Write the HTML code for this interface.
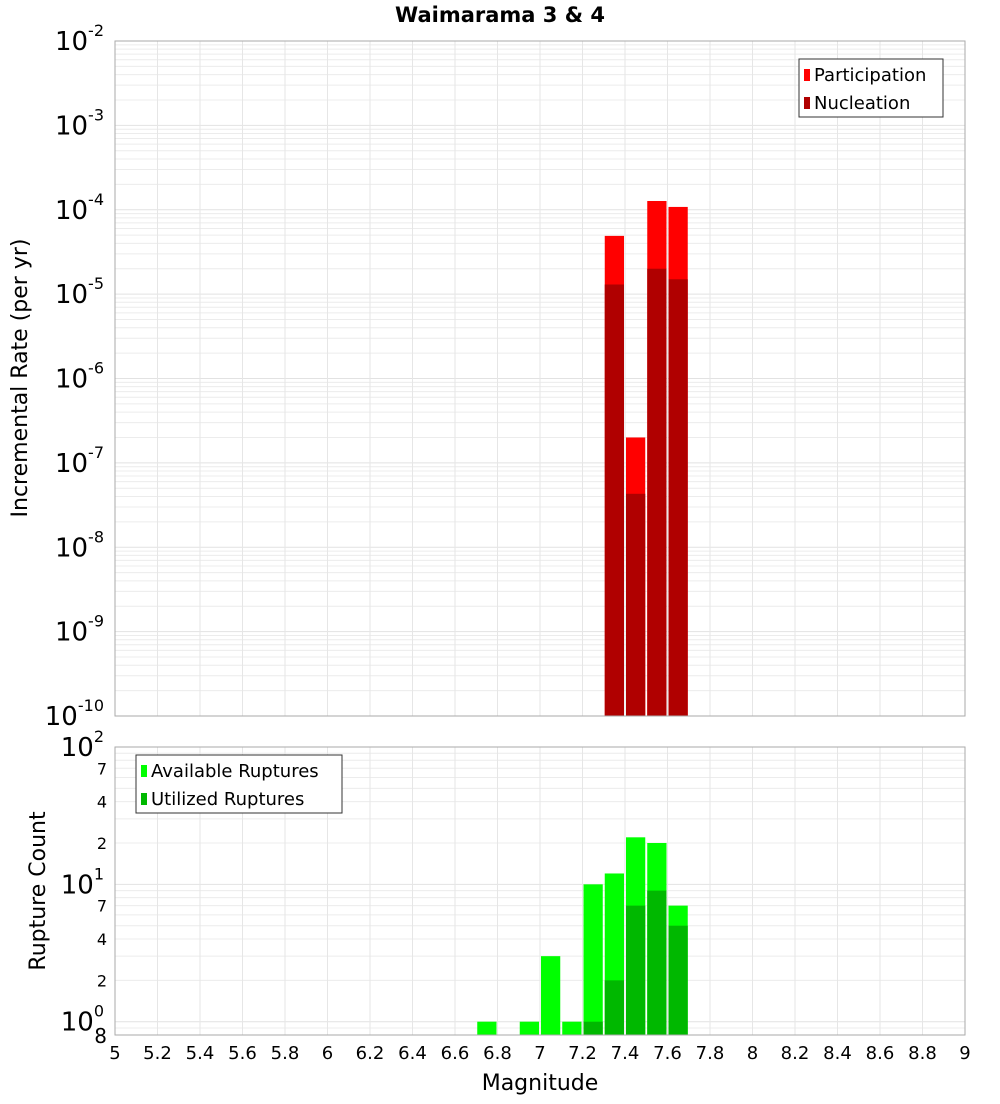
<!DOCTYPE html>
<html><head><meta charset="utf-8"><style>
body{margin:0;background:#fff;font-family:"DejaVu Sans","Liberation Sans",sans-serif}
svg text{font-family:"DejaVu Sans","Liberation Sans",sans-serif}
</style></head><body>
<svg id="chart" width="1000" height="1100" xmlns="http://www.w3.org/2000/svg">
<text x="500" y="22" text-anchor="middle" font-size="21" font-weight="bold">Waimarama 3 &amp; 4</text>
<g id="topPlot"></g>
<g id="botPlot"></g>
<text transform="translate(27,378) rotate(-90)" text-anchor="middle" font-size="22">Incremental Rate (per yr)</text>
<text transform="translate(45,891) rotate(-90)" text-anchor="middle" font-size="22">Rupture Count</text>
<text x="540" y="1090" text-anchor="middle" font-size="22">Magnitude</text>
</svg>
<script>
const mags=[7.35,7.45,7.55,7.65];
const participation=[4.9e-5,2.0e-7,1.27e-4,1.08e-4];
const nucleation=[1.3e-5,4.3e-8,2.0e-5,1.5e-5];
const countMags=[6.75,6.95,7.05,7.15,7.25,7.35,7.45,7.55,7.65];
const available=[1,1,3,1,10,12,22,20,7];
const utilized=[0,0,0,0,1,2,7,9,5];
const xTicks=[5,5.2,5.4,5.6,5.8,6,6.2,6.4,6.6,6.8,7,7.2,7.4,7.6,7.8,8,8.2,8.4,8.6,8.8,9];

const NS='http://www.w3.org/2000/svg';
const X0=115,X1=965,xmin=5,xmax=9;
const x=v=>X0+(v-xmin)/(xmax-xmin)*(X1-X0);
const T0=41,T1=716,tmin=-10,tmax=-2;
const yT=v=>T0+(tmax-Math.log10(v))/(tmax-tmin)*(T1-T0);
const B0=747,B1=1035,bmin=Math.log10(0.8),bmax=2;
const yB=v=>B0+(bmax-Math.log10(v))/(bmax-bmin)*(B1-B0);
function el(p,tag,a,txt){const e=document.createElementNS(NS,tag);for(const k in a)e.setAttribute(k,a[k]);if(txt!==undefined)e.textContent=txt;p.appendChild(e);return e;}
const topG=document.getElementById('topPlot'),botG=document.getElementById('botPlot');

function grid(g,y0,y1,yf,lo,hi){
  for(let d=lo;d<hi;d++)for(let m=1;m<10;m++){const v=m*Math.pow(10,d);const yy=yf(v);if(yy<y0-0.1||yy>y1+0.1)continue;
    const l=el(g,'line',{x1:X0,x2:X1,y1:yy,y2:yy,stroke:m==1?'#e2e2e2':'#ececec','stroke-width':1});
    
    }
  xTicks.forEach(t=>{const l=el(g,'line',{x1:x(t),x2:x(t),y1:y0,y2:y1,stroke:'#e6e6e6'});
    
    });
}
el(topG,'rect',{x:X0,y:T0,width:X1-X0,height:T1-T0,fill:'#fff'});
grid(topG,T0,T1,yT,-10,-1);
el(botG,'rect',{x:X0,y:B0,width:X1-X0,height:B1-B0,fill:'#fff'});
grid(botG,B0,B1,yB,-1,3);

const bw=(x(0.1)-x(0))-2;
mags.forEach((m,i)=>{
  const xl=x(m)-bw/2;
  let r=el(topG,'rect',{x:xl,y:yT(participation[i]),width:bw,height:T1-yT(participation[i]),fill:'#ff0000'});
  
  
  r=el(topG,'rect',{x:xl,y:yT(nucleation[i]),width:bw,height:T1-yT(nucleation[i]),fill:'#b00000'});
  
  
});
countMags.forEach((m,i)=>{
  const xl=x(m)-bw/2;
  if(available[i]>0){let r=el(botG,'rect',{x:xl,y:yB(available[i]),width:bw,height:B1-yB(available[i]),fill:'#00ff00'});
  
  }
  if(utilized[i]>0){let r=el(botG,'rect',{x:xl,y:yB(utilized[i]),width:bw,height:B1-yB(utilized[i]),fill:'#00b800'});
  
  }
});
el(topG,'rect',{x:X0,y:T0,width:X1-X0,height:T1-T0,fill:'none',stroke:'#aaa'});
el(botG,'rect',{x:X0,y:B0,width:X1-X0,height:B1-B0,fill:'none',stroke:'#aaa'});

for(let d=-2;d>=-10;d--){const yy=yT(Math.pow(10,d));
  const t=el(topG,'text',{x:104,y:yy+9,'text-anchor':'end','font-size':26});
  
  
  t.textContent='10';el(t,'tspan',{dy:-14,'font-size':16},String(d));}
[[100,'10','2'],[10,'10','1'],[1,'10','0']].forEach(a=>{const yy=yB(a[0]);
  const t=el(botG,'text',{x:104,y:yy+9,'text-anchor':'end','font-size':26});
  
  
  t.textContent=a[1];el(t,'tspan',{dy:-14,'font-size':16},a[2]);});
[70,40,20,7,4,2].forEach(v=>{const t=el(botG,'text',{x:107,y:yB(v)+6,'text-anchor':'end','font-size':16},String(String(v)[0]));
  
  });
{const t=el(botG,'text',{x:107,y:1043,'text-anchor':'end','font-size':20},'8');

}
xTicks.forEach(v=>{const t=el(botG,'text',{x:x(v),y:1059,'text-anchor':'middle','font-size':18},String(v));
  
  });

function legend(g,lx,ly,w,items,name){
  const lg=el(g,'g',{});
  
  
  el(lg,'rect',{x:lx,y:ly,width:w,height:58,fill:'#fff',stroke:'#333'});
  items.forEach((it,i)=>{el(lg,'rect',{x:lx+5,y:ly+10+i*28,width:6,height:12,fill:it[1]});
    const t=el(lg,'text',{x:lx+15,y:ly+22+i*28,'font-size':18},it[0]);
    
    });
}
legend(topG,799,59,144,[['Participation','#ff0000'],['Nucleation','#b00000']],'rate-legend');
legend(botG,136,755,206,[['Available Ruptures','#00ff00'],['Utilized Ruptures','#00b800']],'count-legend');
</script>
</body></html>
